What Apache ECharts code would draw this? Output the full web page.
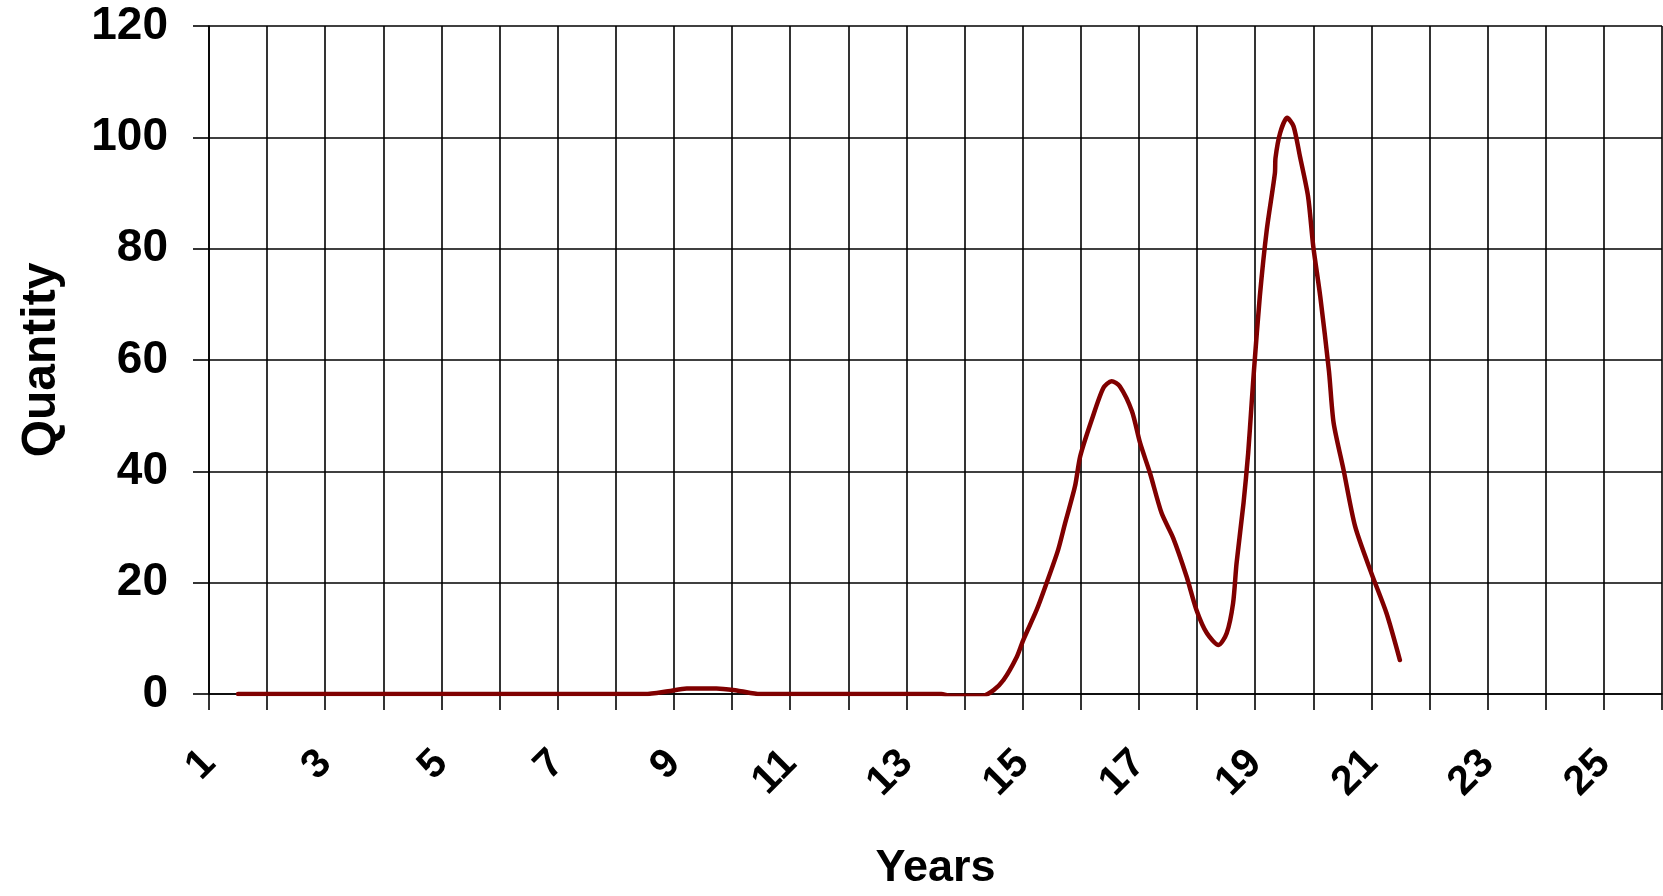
<!DOCTYPE html>
<html>
<head>
<meta charset="utf-8">
<script src="https://cdn.jsdelivr.net/npm/echarts@6/dist/echarts.min.js"></script>
<style>
html,body{margin:0;padding:0;background:#fff;}
#chart{width:1663px;height:896px;}
</style>
</head>
<body>
<div id="chart"></div>
<script>
// Years (x) and Quantity (y)
const years = [1.5, 3, 5, 7, 8.5, 8.9, 9.22, 9.5, 9.73, 10.1, 10.48, 11, 12, 13, 13.6, 13.75, 14.0, 14.32,
  14.5, 14.67, 14.9, 15.01, 15.24, 15.41, 15.61, 15.73, 15.9, 15.99, 16.19, 16.39, 16.53, 16.67, 16.88,
  17.02, 17.19, 17.39, 17.59, 17.82, 17.99, 18.17, 18.37, 18.51, 18.62, 18.68, 18.8, 18.88, 18.94, 18.98,
  19.08, 19.2, 19.34, 19.35, 19.43, 19.55, 19.66, 19.77, 19.91, 20.0, 20.12, 20.27, 20.35, 20.52, 20.72,
  21.0, 21.26, 21.49];
const quantity = [0, 0, 0, 0, 0, 0.5, 1.0, 1.0, 1.0, 0.6, 0, 0, 0, 0, 0, -0.3, -0.3, -0.3,
  0.7, 2.5, 6.7, 9.7, 15.1, 19.9, 25.9, 30.7, 37.3, 42.7, 49.3, 55.0, 56.2, 55.3, 50.8,
  45.1, 39.7, 32.5, 28.0, 21.1, 15.1, 10.9, 8.8, 10.9, 16.3, 23.5, 34.3, 43.3, 52.3, 58.2,
  71.4, 83.4, 93.6, 96.3, 100.8, 103.5, 102.0, 96.6, 89.4, 80.4, 71.4, 58.0, 48.7, 40.3, 30.1,
  21.7, 14.5, 6.1];
const yTicks = [0, 20, 40, 60, 80, 100, 120];
const xLabelValues = [1, 3, 5, 7, 9, 11, 13, 15, 17, 19, 21, 23, 25];

const FONT = '"Liberation Sans", Arial, sans-serif';
const chart = echarts.init(document.getElementById('chart'));
const points = years.map((x, i) => [x, quantity[i]]);

chart.setOption({
  animation: false,
  backgroundColor: '#ffffff',
  grid: { left: 209, right: 1, top: 26, bottom: 202, containLabel: false, outerBoundsMode: 'none' },
  xAxis: {
    type: 'value', min: 1, max: 26, interval: 1,
    name: 'Years', nameLocation: 'middle', nameGap: 152,
    nameTextStyle: { fontFamily: FONT, fontWeight: 'bold', fontSize: 45, color: '#000' },
    axisLine: { show: true, onZero: true, lineStyle: { color: '#000', width: 1.6 } },
    axisTick: { show: true, inside: false, length: 16, lineStyle: { color: '#000', width: 1.6 } },
    splitLine: { show: true, lineStyle: { color: '#000', width: 1.6 } },
    axisLabel: {
      rotate: 45, margin: 63, color: '#000', fontFamily: FONT, fontWeight: 'bold', fontSize: 41,
      showMaxLabel: true, showMinLabel: true,
      formatter: v => xLabelValues.indexOf(v) >= 0 ? String(v) : ''
    }
  },
  yAxis: {
    type: 'value', min: 0, max: 120, interval: 20,
    name: 'Quantity', nameLocation: 'middle', nameGap: 143,
    nameTextStyle: { fontFamily: FONT, fontWeight: 'bold', fontSize: 48, color: '#000' },
    axisLine: { show: true, lineStyle: { color: '#000', width: 1.6 } },
    axisTick: { show: true, inside: false, length: 16, lineStyle: { color: '#000', width: 1.6 } },
    splitLine: { show: true, lineStyle: { color: '#000', width: 1.6 } },
    axisLabel: {
      margin: 41, color: '#000', fontFamily: FONT, fontWeight: 'bold', fontSize: 46,
      formatter: v => yTicks.indexOf(v) >= 0 ? String(v) : ''
    }
  },
  series: [{
    type: 'line',
    data: points,
    showSymbol: false,
    symbol: 'none',
    smooth: 0.25,
    lineStyle: { color: '#800000', width: 4.5, join: 'round', cap: 'round' },
    z: 5
  }]
});
</script>
</body>
</html>
